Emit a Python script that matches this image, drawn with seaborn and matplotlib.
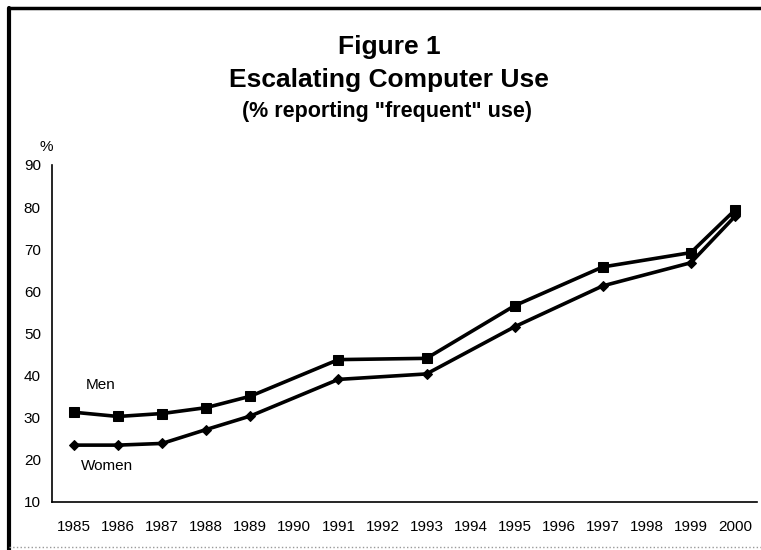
import matplotlib
matplotlib.use("Agg")
import matplotlib.pyplot as plt
import seaborn as sns
import pandas as pd
import numpy as np

year_labels = ["1985", "1986", "1987", "1988", "1989", "1990", "1991", "1992",
               "1993", "1994", "1995", "1996", "1997", "1998", "1999", "2000"]
survey_years = ["1985", "1986", "1987", "1988", "1989", "1991", "1993",
                "1995", "1997", "1999", "2000"]
men = [31.3, 30.3, 31.0, 32.4, 35.1, 43.8, 44.1, 56.6, 65.8, 69.2, 79.3]
women = [23.5, 23.5, 23.9, 27.2, 30.4, 39.1, 40.4, 51.6, 61.3, 66.8, 77.8]
y_ticks = [10, 20, 30, 40, 50, 60, 70, 80, 90]

sns.set_theme(style="white")
plt.rcParams['font.family'] = ['Liberation Sans', 'DejaVu Sans']
plt.rcParams['text.color'] = 'black'
plt.rcParams['xtick.color'] = 'black'
plt.rcParams['ytick.color'] = 'black'
plt.rcParams['axes.labelcolor'] = 'black'

pos = [year_labels.index(y) for y in survey_years]
df = pd.DataFrame({
    "pos": pos * 2,
    "value": men + women,
    "sex": ["Men"] * len(men) + ["Women"] * len(women),
})

fig = plt.figure(figsize=(7.61, 5.50), dpi=100)
ax = fig.add_axes([0.0683, 0.0873, 0.9264, 0.6127])

sns.lineplot(data=df, x="pos", y="value", hue="sex", style="sex",
             palette={"Men": "black", "Women": "black"},
             markers={"Men": "s", "Women": "D"}, dashes=False,
             linewidth=2.6, markersize=6.5, markeredgecolor="black",
             legend=False, ax=ax)
for ln in ax.lines:
    if ln.get_marker() == "D":
        ln.set_markersize(5.5)

ax.set_xlim(-0.5, len(year_labels) - 0.5)
ax.set_ylim(10, 90)
ax.set_yticks(y_ticks)
ax.set_yticklabels([str(t) for t in y_ticks], fontsize=11)
ax.set_xticks(np.arange(len(year_labels) + 1) - 0.5)
ax.set_xticklabels([])
ax.set_xticks(np.arange(len(year_labels)), minor=True)
ax.set_xticklabels(year_labels, minor=True, fontsize=11)
ax.tick_params(axis="x", which="major", direction="out", length=5, width=1, color="black")
ax.tick_params(axis="x", which="minor", length=0, pad=13)
ax.tick_params(axis="y", direction="out", length=3, width=1, color="black", pad=5)
ax.set_xlabel("")
ax.set_ylabel("")
for s in ["top", "right"]:
    ax.spines[s].set_visible(False)
for s in ["left", "bottom"]:
    ax.spines[s].set_color("black")
    ax.spines[s].set_linewidth(1.2)

ax.text(0.61, 37.7, "Men", fontsize=11, ha="center", va="center")
ax.text(0.74, 18.6, "Women", fontsize=11, ha="center", va="center")
fig.text(46 / 761, 1 - 147 / 550, "%", fontsize=11, ha="center", va="center")

fig.text(389 / 761, 1 - 54 / 550, "Figure 1", fontsize=19, fontweight="bold",
         ha="center", va="baseline")
fig.text(389 / 761, 1 - 87 / 550, "Escalating Computer Use", fontsize=19,
         fontweight="bold", ha="center", va="baseline")
fig.text(387 / 761, 1 - 117 / 550, "(% reporting \"frequent\" use)", fontsize=15.5,
         fontweight="bold", ha="center", va="baseline")

# outer frame
fig.add_artist(plt.Line2D([9 / 761, 9 / 761], [0, 1 - 8 / 550], transform=fig.transFigure,
                          color="black", linewidth=3))
fig.add_artist(plt.Line2D([9 / 761, 1], [1 - 8 / 550, 1 - 8 / 550], transform=fig.transFigure,
                          color="black", linewidth=2.5))
fig.add_artist(plt.Line2D([9 / 761, 1], [1 - 547 / 550, 1 - 547 / 550], transform=fig.transFigure,
                          color="#999999", linewidth=1, linestyle=":"))

fig.savefig("out.png", dpi=100)
